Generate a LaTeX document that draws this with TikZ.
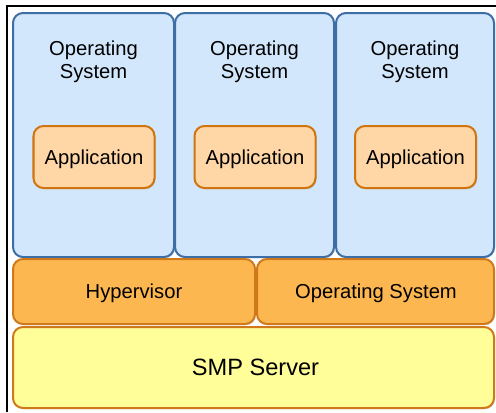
\documentclass[tikz,border=0pt]{standalone}
\usepackage{fontspec}
\setmainfont{Liberation Sans}
\usetikzlibrary{shadows}
\definecolor{osfill}{HTML}{D3E7FC}
\definecolor{osline}{HTML}{3D6EA5}
\definecolor{appfill}{HTML}{FFD7A6}
\definecolor{appline}{HTML}{D0740F}
\definecolor{hvfill}{HTML}{FDB750}
\definecolor{hvline}{HTML}{D0791A}
\definecolor{srvfill}{HTML}{FFFE99}
\begin{document}
\begin{tikzpicture}[x=1bp,y=-1bp,
  lbl/.style={font=\fontsize{20.2bp}{23bp}\selectfont, align=center},
  biglbl/.style={font=\fontsize{23.6bp}{27bp}\selectfont, align=center},
  layer/.style={rounded corners=10bp, line width=2bp,
    drop shadow={shadow xshift=1bp, shadow yshift=-1.2bp, opacity=0.35}},
  osbox/.style={layer, draw=osline, fill=osfill},
  appbox/.style={layer, draw=appline, fill=appfill,
    minimum width=121bp, minimum height=62bp, inner sep=0pt},
  hvbox/.style={layer, draw=hvline, fill=hvfill},
  srvbox/.style={layer, draw=hvline, fill=srvfill}]
\useasboundingbox (0,0) rectangle (496,412);
% outer frame
\draw[line width=1.5bp] (7,412) -- (7,6) -- (496,6);
% guest partitions, each with its operating system and application
\foreach \i/\xa/\xb in {1/13/174, 2/175/334, 3/336/494} {
  \draw[osbox] (\xa,13) rectangle (\xb,257);
  \node[lbl] (os\i) at ({(\xa+\xb)/2},62) {Operating\\System};
  \node[appbox] (app\i) at ({(\xa+\xb)/2+0.5},157) {};
  \node[lbl] (apptext\i) at ([yshift=-2.5bp]app\i.center) {Application};
}
% hypervisor and host layer
\draw[hvbox] (13,259) rectangle (255,324);
\node[lbl] (hv) at (134,293) {Hypervisor};
\draw[hvbox] (257,259) rectangle (494,324);
\node[lbl] (hos) at (376,293) {Operating System};
% hardware
\draw[srvbox] (13,327) rectangle (494,408);
\node[biglbl] (srv) at (255.5,367.5) {SMP Server};
\end{tikzpicture}
\end{document}
